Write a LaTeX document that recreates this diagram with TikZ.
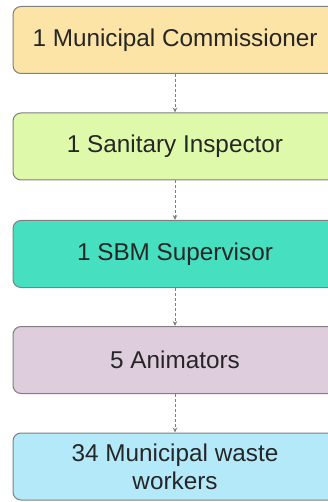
\documentclass[tikz,border=0pt]{standalone}
\usepackage{fontspec}
\setmainfont{Liberation Sans}
\usetikzlibrary{arrows.meta}
\definecolor{cA}{HTML}{FCE3A6}
\definecolor{cB}{HTML}{DEF9AA}
\definecolor{cC}{HTML}{46E0C0}
\definecolor{cD}{HTML}{DDCDDD}
\definecolor{cE}{HTML}{B4E9FA}
\definecolor{edge}{HTML}{7F7F7F}
\begin{document}
\begin{tikzpicture}[x=1pt,y=-1pt,
  box/.style={draw=edge, line width=1pt, rounded corners=8pt, minimum width=324pt,
    minimum height=67pt, font=\fontsize{24.3}{28}\selectfont, text=black!85,
    align=center, inner sep=0pt},
  link/.style={draw=edge, line width=0.8pt, dash pattern=on 3pt off 2pt,
    -{Stealth[length=5pt,width=4.5pt]}}]
\useasboundingbox (0,0) rectangle (328,502);
\node[box, fill=cA] (a) at (175,40) {1 Municipal Commissioner};
\node[box, fill=cB] (b) at (175,146.5) {1 Sanitary Inspector};
\node[box, fill=cC] (c) at (175,254) {1 SBM Supervisor};
\node[box, fill=cD] (d) at (175,360) {5 Animators};
\node[box, fill=cE] (e) at (175,466.5) {34 Municipal waste\\workers};
\draw[link] (a) -- (b);
\draw[link] (b) -- (c);
\draw[link] (c) -- (d);
\draw[link] (d) -- (e);
\end{tikzpicture}
\end{document}
